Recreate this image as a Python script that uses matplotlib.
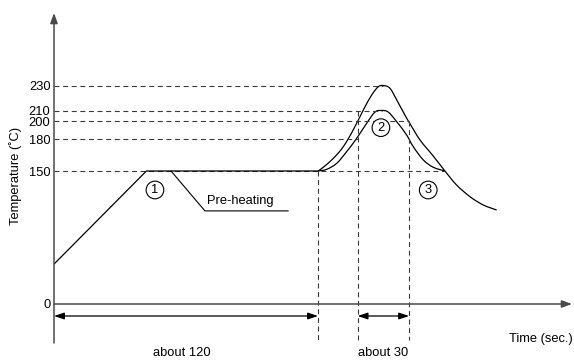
import numpy as np
import matplotlib
matplotlib.use("Agg")
import matplotlib.pyplot as plt
from matplotlib.path import Path
from matplotlib.patches import PathPatch

plt.rcParams["font.family"] = ["Liberation Sans", "DejaVu Sans"]
plt.rcParams["lines.scale_dashes"] = False

# ── reflow profile (time in s, temperature in °C) ─────────────────────────
preheat_t = [0, 42, 120]
preheat_T = [45, 150, 150]

upper_t = [120, 122.4, 127.0, 131.5, 136.0, 140.6, 144.4, 147.4, 149.7, 152.7,
           155.8, 159.5, 161.8, 166.4, 172.4, 177.7, 183.0, 189.1, 195.1, 201.2]
upper_T = [150, 153.5, 161.9, 172.8, 190, 210.4, 222.4, 229, 230, 227.8,
           218.4, 205.7, 197, 179, 164, 150, 134.2, 121, 111.7, 106]

lower_t = [120, 124.0, 128.5, 133.0, 137.6, 142.1, 145.9, 148.9, 151.95, 155.8,
           160.3, 163.3, 167.9, 172.4, 177.7]
lower_T = [150, 151.6, 157.2, 168.1, 180.8, 197.4, 208.5, 210, 208.5, 199.2,
           184.4, 172.8, 160.3, 153.5, 150]

# temperature levels and how far each guide line runs
level_T = [230, 210, 200, 180, 150]
level_end_t = [149.7, 148.9, 161.4, 138.0, 177.7]
ytick_T = [0, 150, 180, 200, 210, 230]

preheat_end = 120
peak_window = (138.0, 161.4)

# schematic (non-linear) temperature axis
T_knots = np.array([-150, 0, 150, 180, 200, 210, 230, 400])
H_knots = np.array([-133, 0, 133, 165, 183, 193.5, 218.5, 431])


def fwd(T):
    return np.interp(T, T_knots, H_knots)


def inv(h):
    return np.interp(h, H_knots, T_knots)


def smooth_curve(t, T):
    """Catmull-Rom through the points, drawn as cubic Bezier segments."""
    P = np.column_stack([t, fwd(np.asarray(T, float))])
    P = np.vstack([P[0], P, P[-1]])
    verts = [P[1]]
    codes = [Path.MOVETO]
    for i in range(1, len(P) - 2):
        c1 = P[i] + (P[i + 1] - P[i - 1]) / 6
        c2 = P[i + 1] - (P[i + 2] - P[i]) / 6
        verts += [c1, c2, P[i + 1]]
        codes += [Path.CURVE4] * 3
    verts = np.array(verts)
    verts[:, 1] = inv(verts[:, 1])
    return Path(verts, codes)


FS = 9.3
px_per_s = 2.2
fig = plt.figure(figsize=(5.74, 3.6), dpi=100)
ax = fig.add_axes([54 / 574, 0, 520 / 574, 1])
ax.set_yscale("function", functions=(fwd, inv))
ax.set_xlim(0, 520 / px_per_s)
ax.set_ylim(inv(-56), inv(304))
for s in ax.spines.values():
    s.set_visible(False)
ax.set_xticks([])
ax.set_yticks(ytick_T)
ax.set_yticklabels([str(v) for v in ytick_T])
ax.tick_params(axis="y", length=0, pad=2.5, labelsize=FS)
ax.yaxis.set_minor_locator(matplotlib.ticker.NullLocator())

axis_col = "#4a4a4a"
dash_col = "#3a3a3a"
dash = (0, (3.6, 2.6))
y_lo = inv(-39)
y_lo2 = inv(-36)
y_arrow = inv(-12)

# axes with arrow heads
ax.annotate("", xy=(0, inv(291)), xytext=(0, y_lo),
            arrowprops=dict(arrowstyle="-|>,head_length=0.6,head_width=0.22",
                            color=axis_col, lw=1.1, shrinkA=0, shrinkB=0),
            annotation_clip=False)
ax.annotate("", xy=(518 / px_per_s, 0), xytext=(0, 0),
            arrowprops=dict(arrowstyle="-|>,head_length=0.6,head_width=0.22",
                            color=axis_col, lw=1.1, shrinkA=0, shrinkB=0),
            annotation_clip=False)

# dashed guides
for T, te in zip(level_T, level_end_t):
    ax.plot([0, te], [T, T], color=dash_col, lw=0.8, ls=dash)
ax.plot([preheat_end, preheat_end], [150, y_lo], color=dash_col, lw=0.8, ls=dash)
ax.plot([peak_window[0]] * 2, [210, y_lo2], color=dash_col, lw=0.8, ls=dash)
ax.plot([peak_window[1]] * 2, [200, y_lo2], color=dash_col, lw=0.8, ls=dash)

# profile curves
ax.plot(preheat_t, preheat_T, color="black", lw=0.9)
for t, T in [(upper_t, upper_T), (lower_t, lower_T)]:
    ax.add_patch(PathPatch(smooth_curve(t, T), fill=False, ec="black", lw=0.9))

# pre-heating leader
ax.plot([53.2, 68.6, 106.4], [150, 105, 105], color="black", lw=0.8)
ax.text(69.5, 116.5, "Pre-heating", fontsize=FS, ha="left", va="center")

# zone markers
circ = dict(boxstyle="circle,pad=0.22", fc="white", ec="black", lw=0.8)
for t, T, s in [(45.9, 128.6, "1"), (148.6, 192.6, "2"), (170.1, 128.6, "3")]:
    ax.text(t, T, s, fontsize=FS, ha="center", va="center", bbox=circ)

# duration arrows
dbl = dict(arrowstyle="<|-|>,head_length=0.6,head_width=0.2",
           color="black", lw=0.9, shrinkA=0, shrinkB=0)
ax.annotate("", xy=(preheat_end, y_arrow), xytext=(0, y_arrow), arrowprops=dbl)
ax.annotate("", xy=(peak_window[1], y_arrow), xytext=(peak_window[0], y_arrow),
            arrowprops=dbl)
ax.text(58.2, inv(-49), "about 120", fontsize=FS, ha="center", va="center")
ax.text(sum(peak_window) / 2, inv(-49), "about 30", fontsize=FS,
        ha="center", va="center")
ax.text(235.9, inv(-35), "Time (sec.)", fontsize=FS, ha="right", va="center")

fig.text(16 / 574, 1 - 176 / 360, "Temperature (˚C)", rotation=90,
         fontsize=FS, ha="center", va="center")

fig.savefig("out.png", dpi=100)
